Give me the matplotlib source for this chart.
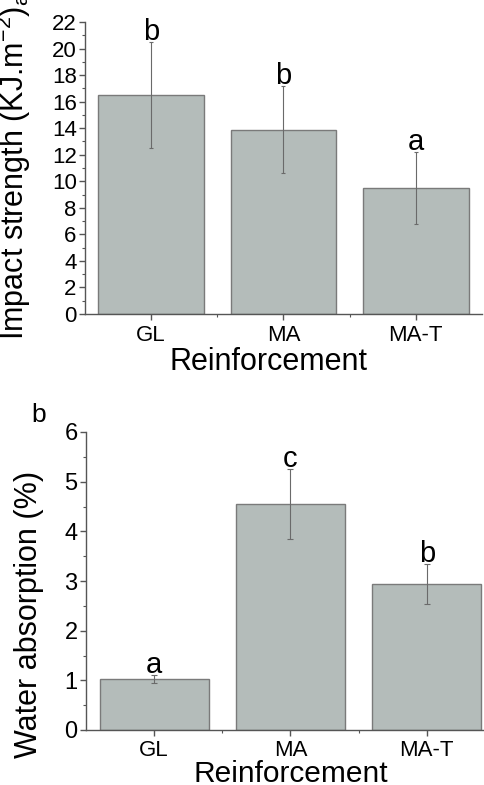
import matplotlib
matplotlib.use("Agg")
import matplotlib.pyplot as plt
from matplotlib.ticker import MultipleLocator

plt.rcParams['font.family'] = ['Liberation Sans', 'DejaVu Sans']
plt.rcParams['mathtext.fontset'] = 'custom'
plt.rcParams['mathtext.rm'] = 'Liberation Sans'
plt.rcParams['mathtext.it'] = 'Liberation Sans'

categories = ["GL", "MA", "MA-T"]
impact_values = [16.5, 13.9, 9.5]
impact_errors = [4.0, 3.3, 2.7]
impact_letters = ["b", "b", "a"]
water_values = [1.02, 4.55, 2.94]
water_errors = [0.08, 0.7, 0.4]
water_letters = ["a", "c", "b"]

W, H = 485, 785
fig = plt.figure(figsize=(W / 100, H / 100), dpi=100)

bar_color = "#b4bcba"
edge_color = "#7a7a7a"
err_color = "#6a6a6a"
spine_color = "#555555"


def px(x0, y0, x1, y1):
    return [x0 / W, 1 - y1 / H, (x1 - x0) / W, (y1 - y0) / H]


def style(ax, ymajor, yminor, ymax, ytick_size):
    x = range(len(categories))
    ax.set_xlim(-0.5, 2.5)
    ax.set_ylim(0, ymax)
    for s in ["top", "right"]:
        ax.spines[s].set_visible(False)
    for s in ["left", "bottom"]:
        ax.spines[s].set_color(spine_color)
        ax.spines[s].set_linewidth(1.0)
    ax.yaxis.set_major_locator(MultipleLocator(ymajor))
    ax.yaxis.set_minor_locator(MultipleLocator(yminor))
    ax.set_xticks(list(x))
    ax.set_xticks([0.5, 1.5], minor=True)
    ax.set_xticklabels(categories, fontsize=16)
    ax.tick_params(axis="both", which="major", direction="out", length=4,
                   width=1, color=spine_color, pad=2)
    ax.tick_params(axis="both", which="minor", direction="out", length=2.5,
                   width=0.8, color=spine_color)
    ax.tick_params(axis="y", labelsize=ytick_size)
    ax.tick_params(axis="x", pad=4)


# Top panel: impact strength
ax1 = fig.add_axes(px(85, 22, 482, 314))
x = list(range(len(categories)))
ax1.bar(x, impact_values, width=0.8, color=bar_color, edgecolor=edge_color,
        linewidth=1.0, zorder=2)
ax1.errorbar(x, impact_values, yerr=impact_errors, fmt="none", ecolor=err_color,
             elinewidth=0.8, capsize=1.5, capthick=0.8, zorder=3)
for xi, v, e, lab in zip(x, impact_values, impact_errors, impact_letters):
    ax1.text(xi, v + e + 0.15, lab, ha="center", va="baseline", fontsize=21)
style(ax1, 2, 1, 22, 16)
fig.text(268 / W, 1 - 370 / H, "Reinforcement", ha="center", va="baseline", fontsize=22)
fig.text(24 / W, 1 - 340 / H, "Impact strength (KJ.m$^{-2}$)$_{\\mathrm{a}}$",
         rotation=90, rotation_mode="anchor", ha="left", va="baseline", fontsize=22)

# Bottom panel: water absorption
ax2 = fig.add_axes(px(86, 432, 495, 730))
ax2.bar(x, water_values, width=0.8, color=bar_color, edgecolor=edge_color,
        linewidth=1.0, zorder=2)
ax2.errorbar(x, water_values, yerr=water_errors, fmt="none", ecolor=err_color,
             elinewidth=0.8, capsize=2, capthick=0.8, zorder=3)
for xi, v, e, lab in zip(x, water_values, water_errors, water_letters):
    ax2.text(xi, v + e + 0.05, lab, ha="center", va="baseline", fontsize=21)
style(ax2, 1, 0.5, 6, 17)
ax2.tick_params(axis="x", pad=3)
fig.text(291 / W, 1 - 782 / H, "Reinforcement", ha="center", va="baseline", fontsize=21.5)
fig.text(37 / W, 1 - 758 / H, "Water absorption (%)",
         rotation=90, rotation_mode="anchor", ha="left", va="baseline", fontsize=22)
fig.text(31 / W, 1 - 422 / H, "b", ha="left", va="baseline", fontsize=19)

fig.savefig("out.png", dpi=100)
